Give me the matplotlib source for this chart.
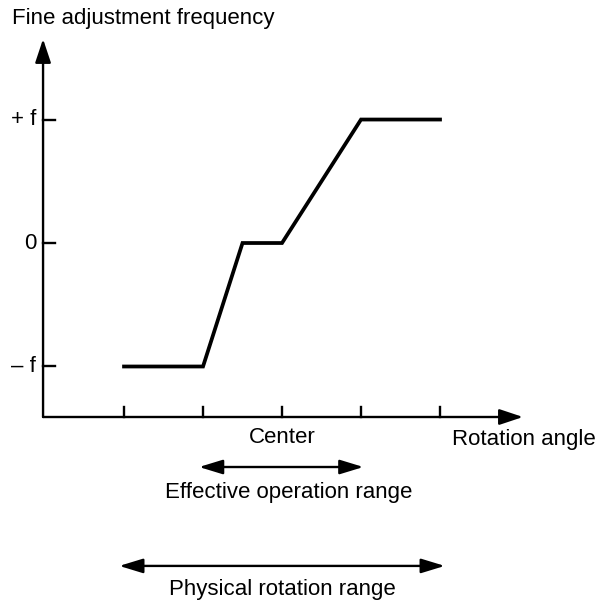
import matplotlib.pyplot as plt

plt.rcParams['font.family'] = ['Liberation Sans', 'DejaVu Sans']

# rotation angle tick positions (tick 2 = center)
tick_x = [0, 1, 2, 3, 4]
# frequency levels
level_y = [-1, 0, 1]
level_labels = ['– f', '0', '+ f']

# fine adjustment frequency vs rotation angle
curve_x = [0, 1, 1.5, 2, 3, 4]
curve_y = [-1, -1, 0, 0, 1, 1]

effective_range = [0.95, 3.03]
physical_range = [-0.06, 4.06]

fig = plt.figure(figsize=(6.01, 6.0), dpi=100)
ax = fig.add_axes([0, 0, 1, 1])
ax.axis('off')
ax.set_xlim(-1.570, 6.038)
ax.set_ylim(-2.891, 1.968)

x0, y0 = -1.025, -1.409   # axis origin
fs = 16

# axes with arrows
ax.annotate('', xy=(x0, 1.652), xytext=(x0, y0),
            arrowprops=dict(arrowstyle='-|>,head_length=0.72,head_width=0.24',
                            mutation_scale=20, lw=1.7, color='black',
                            shrinkA=0, shrinkB=0))
ax.annotate('', xy=(5.05, y0), xytext=(x0, y0),
            arrowprops=dict(arrowstyle='-|>,head_length=0.72,head_width=0.24',
                            mutation_scale=20, lw=1.7, color='black',
                            shrinkA=0, shrinkB=0))

# tick marks
for x in tick_x:
    ax.plot([x, x], [y0, -1.328], color='black', lw=1.7)
for y, lab in zip(level_y, level_labels):
    ax.plot([x0, -0.873], [y, y], color='black', lw=1.7)
    ax.text(-1.114, y, lab, ha='right', va='center', fontsize=fs)

# curve
ax.plot(curve_x, curve_y, color='black', lw=2.7, solid_joinstyle='miter')

# labels
ax.text(-1.418, 1.822, 'Fine adjustment frequency', ha='left', va='center', fontsize=fs)
ax.text(tick_x[2], -1.571, 'Center', ha='center', va='center', fontsize=fs)
ax.text(4.15, -1.595, 'Rotation angle', ha='left', va='center', fontsize=fs)

# range arrows
ax.annotate('', xy=(effective_range[1], -1.814), xytext=(effective_range[0], -1.814),
            arrowprops=dict(arrowstyle='<|-|>,head_length=0.72,head_width=0.22',
                            mutation_scale=20, lw=1.7, color='black',
                            shrinkA=0, shrinkB=0))
ax.text(2.09, -2.024, 'Effective operation range', ha='center', va='center', fontsize=fs)

ax.annotate('', xy=(physical_range[1], -2.615), xytext=(physical_range[0], -2.615),
            arrowprops=dict(arrowstyle='<|-|>,head_length=0.72,head_width=0.22',
                            mutation_scale=20, lw=1.7, color='black',
                            shrinkA=0, shrinkB=0))
ax.text(2.0, -2.81, 'Physical rotation range', ha='center', va='center', fontsize=fs)

fig.savefig('out.png', dpi=100)
